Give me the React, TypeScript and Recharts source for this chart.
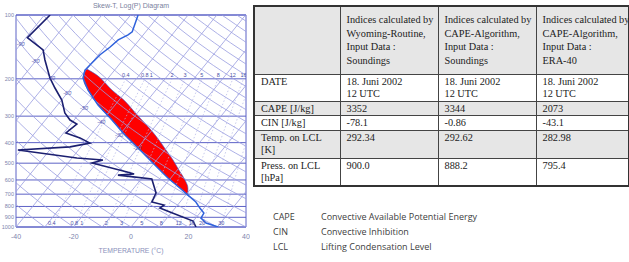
import {
  ComposedChart,
  Line,
  Area,
  Scatter,
  XAxis,
  YAxis,
  CartesianGrid,
  ReferenceArea,
} from "recharts";

// Sounding 18 June 2002, 12 UTC
const TEMP_P = [100, 120, 124, 131, 142, 154, 168, 182, 198, 226, 266, 313, 368, 433, 510, 587, 655, 707, 762, 814, 859, 907, 958, 1000];
const TEMP_T = [-57.4, -54.7, -55.3, -57.3, -58.1, -59.4, -59.9, -60.3, -58.8, -53.6, -45.9, -36.8, -28.1, -18.6, -9.2, -1.0, 6.0, 10.8, 15.5, 18.6, 21.4, 21.8, 25.0, 30.3];

const DEW_P = [100, 128, 146, 163, 198, 221, 252, 290, 313, 327, 360, 380, 402, 419, 433, 473, 483, 499, 550, 562, 569, 594, 691, 762, 788, 814, 850, 937, 1000];
const DEW_T = [-88.0, -89.5, -80.6, -77.1, -70.3, -65.7, -59.9, -55.2, -51.4, -47.9, -49.2, -42.9, -38.0, -43.8, -61.1, -38.3, -28.7, -31.6, -16.9, -13.9, -19.2, -6.3, -0.9, 0.2, 5.3, 4.7, 9.3, 19.9, 22.6];

// CAPE area: environment vs lifted parcel
const CAPE_P = [180, 192, 203, 226, 252, 281, 313, 349, 389, 433, 483, 539, 600, 655, 707];
const CAPE_ENV_T = [-60.3, -59.3, -57.9, -53.6, -48.5, -42.9, -36.8, -31.0, -24.9, -18.6, -12.3, -6.0, 0.4, 6.0, 10.8];
const CAPE_PARCEL_T = [-59.9, -54.8, -51.3, -45.3, -38.3, -32.3, -26.4, -20.4, -14.8, -9.6, -4.3, 0.6, 5.5, 8.8, 10.8];

// diagram background
const PRESSURE_TICKS = [100, 200, 300, 400, 500, 600, 700, 800, 900, 1000];
const TEMP_TICKS = [-40, -20, 0, 20, 40];
const ISOTHERMS = [-100, -90, -80, -70, -60, -50, -40, -30, -20, -10, 0, 10, 20, 30, 40];
const ISOTHERM_LABELS = [-90, -80, -70, -60, -50, -40, -30, -20];
const DRY_ADIABATS = [-40, -30, -20, -10, 0, 10, 20, 30, 40, 50, 60, 70, 80, 90, 100, 110, 120, 130, 140, 150, 160, 170, 180, 190, 200, 210];
const MIXING_RATIOS = [0.4, 0.8, 1, 2, 3, 5, 8, 12, 16, 20, 30];
const CURVE_LEVELS = [1000, 900, 800, 700, 600, 500, 400, 300, 250, 200, 150, 100];
const MIX_LEVELS = [1000, 800, 600, 400, 300, 200];

// table
const SOURCES = [
  ["Indices calculated by", "Wyoming-Routine,", "Input Data :", "Soundings"],
  ["Indices calculated by", "CAPE-Algorithm,", "Input Data :", "Soundings"],
  ["Indices calculated by", "CAPE-Algorithm,", "Input Data :", "ERA-40"],
];
const ROW_LABELS = [["DATE"], ["CAPE [J/kg]"], ["CIN [J/kg]"], ["Temp. on LCL", "[K]"], ["Press. on LCL", "[hPa]"]];
const DATE_LINES = ["18. Juni 2002", "12 UTC"];
const CAPE_VALUES = ["3352", "3344", "2073"];
const CIN_VALUES = ["-78.1", "-0.86", "-43.1"];
const LCL_TEMPS = ["292.34", "292.62", "282.98"];
const LCL_PRESS = ["900.0", "888.2", "795.4"];

const ABBREVIATIONS = ["CAPE", "CIN", "LCL"];
const DESCRIPTIONS = ["Convective Available Potential Energy", "Convective Inhibition", "Lifting Condensation Level"];

const SKEW = 26;
const skew = (t: number, p: number) => t + SKEW * Math.log(1000 / p);
const dewFromMix = (w: number, p: number) => {
  const l = Math.log((w * p) / (622 + w) / 6.112);
  return (243.5 * l) / (17.67 - l);
};

const isothermLines = ISOTHERMS.map((t) => [1000, 100].map((p) => ({ p, x: skew(t, p) })));
const dryLines = DRY_ADIABATS.map((th) =>
  CURVE_LEVELS.map((p) => ({ p, x: skew((th + 273.15) * Math.pow(p / 1000, 0.286) - 273.15, p) }))
);
const mixLines = MIXING_RATIOS.map((w) => MIX_LEVELS.map((p) => ({ p, x: skew(dewFromMix(w, p), p) })));
const mixLabels = MIXING_RATIOS.flatMap((w) =>
  [1000, 200].map((p) => ({ p, x: skew(dewFromMix(w, p), p), label: String(w) }))
).filter((d) => d.x > -38 && d.x < 40);
// isotherm labels sit where each isotherm meets the 50 °C dry adiabat
const isoLabels = ISOTHERM_LABELS.map((t) => {
  const p = 1000 * Math.pow((t + 273.15) / 323.15, 1 / 0.286);
  return { p, x: skew(t, p), label: String(t) };
});

const tempLine = TEMP_P.map((p, i) => ({ p, x: skew(TEMP_T[i], p) }));
const dewLine = DEW_P.map((p, i) => ({ p, x: skew(DEW_T[i], p) }));
const capeArea = CAPE_P.map((p, i) => ({ p, range: [skew(CAPE_ENV_T[i], p), skew(CAPE_PARCEL_T[i], p)] }));

const GRID = "#989ce0";
const ISOBAR = "#5d62c6";
const AXIS_TEXT = "#7e84ad";

const MixLabel = (props: any) => (
  <text x={props.cx} y={props.cy - 2} fontSize={5.5} fill="#4b52a8" textAnchor="middle" fontFamily="Liberation Sans, Arial">
    {props.payload.label}
  </text>
);
const IsoLabel = (props: any) => (
  <text x={props.cx} y={props.cy + 2} fontSize={5.5} fill="#5a60b4" textAnchor="middle" fontStyle="italic" fontFamily="Liberation Sans, Arial">
    {props.payload.label}
  </text>
);

function SkewT() {
  return (
    <div style={{ position: "absolute", left: 0, top: 0, width: 250, height: 262 }}>
      <div
        style={{
          position: "absolute", left: 16, width: 230, top: 2, textAlign: "center",
          fontFamily: "Liberation Sans, Arial", fontSize: 7, color: "#7a7f9e",
        }}
      >
        Skew-T, Log(P) Diagram
      </div>
      <ComposedChart layout="vertical" width={250} height={262} margin={{ top: 15, right: 4, bottom: 0, left: 0 }}>
        <XAxis
          type="number"
          dataKey="x"
          domain={[-40, 40]}
          ticks={TEMP_TICKS}
          allowDataOverflow
          height={35}
          axisLine={false}
          tickLine={false}
          tickSize={6}
          tickMargin={1}
          tick={{ fontSize: 7, fill: AXIS_TEXT, fontFamily: "Liberation Sans, Arial" }}
          label={{ value: "TEMPERATURE (°C)", position: "insideBottom", offset: 9, fontSize: 6.8, fill: "#8a90bb", fontFamily: "Liberation Sans, Arial" }}
        />
        <YAxis
          type="number"
          dataKey="p"
          scale="log"
          domain={[100, 1000]}
          ticks={PRESSURE_TICKS}
          allowDataOverflow
          width={16}
          axisLine={false}
          tickLine={false}
          tickSize={2}
          tickMargin={0}
          interval={0}
          tick={{ fontSize: 5.5, fill: AXIS_TEXT, fontFamily: "Liberation Sans, Arial" }}
        />
        <CartesianGrid vertical={false} stroke={ISOBAR} strokeWidth={1} />
        {isothermLines.map((d, i) => (
          <Line key={`it${i}`} data={d} dataKey="x" stroke={GRID} strokeWidth={0.8} dot={false} isAnimationActive={false} />
        ))}
        {dryLines.map((d, i) => (
          <Line key={`da${i}`} data={d} dataKey="x" type="monotone" stroke={GRID} strokeWidth={0.8} dot={false} isAnimationActive={false} />
        ))}
        {mixLines.map((d, i) => (
          <Line key={`mr${i}`} data={d} dataKey="x" type="monotone" stroke="#b2b5e6" strokeWidth={0.7} strokeDasharray="1.5 2" dot={false} isAnimationActive={false} />
        ))}
        <Scatter data={isoLabels} shape={IsoLabel} isAnimationActive={false} />
        <Area
          data={capeArea}
          dataKey="range"
          type="monotone"
          fill="#ff0000"
          fillOpacity={1}
          stroke="#3b5cd6"
          strokeWidth={0.6}
          isAnimationActive={false}
        />
        <Line data={tempLine} dataKey="x" stroke="#2f62dc" strokeWidth={1.5} dot={false} isAnimationActive={false} />
        <Line data={dewLine} dataKey="x" stroke="#1b1f70" strokeWidth={1.6} dot={false} isAnimationActive={false} />
        <Scatter data={mixLabels} shape={MixLabel} isAnimationActive={false} />
        <ReferenceArea x1={-40} x2={40} y1={100} y2={1000} fill="none" stroke={ISOBAR} strokeWidth={1} />
      </ComposedChart>
    </div>
  );
}

function IndicesTable() {
  const rows = [
    SOURCES.map(() => DATE_LINES),
    CAPE_VALUES.map((v) => [v]),
    CIN_VALUES.map((v) => [v]),
    LCL_TEMPS.map((v) => [v]),
    LCL_PRESS.map((v) => [v]),
  ];
  const rowHeights = [26, 14, 14, 28, 27];
  const cell = (shaded: boolean): React.CSSProperties => ({
    border: "1px solid #444",
    padding: "0px 2px 0px 6px",
    verticalAlign: "top",
    background: shaded ? "#e6e6e6" : "#fff",
  });
  return (
    <table
      style={{
        position: "absolute", left: 253, top: 5, width: 375, borderCollapse: "collapse", tableLayout: "fixed",
        fontFamily: "Liberation Serif, serif", fontSize: 10.3, lineHeight: "12.5px", color: "#1c1c1c",
        border: "2px solid #333",
      }}
    >
      <colgroup>
        <col style={{ width: 86 }} />
        <col style={{ width: 98 }} />
        <col style={{ width: 98 }} />
        <col style={{ width: 93 }} />
      </colgroup>
      <tbody>
        <tr style={{ height: 68 }}>
          <td style={{ ...cell(true), verticalAlign: "middle" }} />
          {SOURCES.map((lines, i) => (
            <td key={i} style={{ ...cell(true), verticalAlign: "middle", lineHeight: "13.4px", whiteSpace: "nowrap" }}>
              {lines.map((l, j) => (
                <div key={j}>{l}</div>
              ))}
            </td>
          ))}
        </tr>
        {rows.map((vals, r) => (
          <tr key={r} style={{ height: rowHeights[r] }}>
            <td style={{ ...cell(r % 2 === 1), paddingTop: 1 }}>
              {ROW_LABELS[r].map((l, j) => (
                <div key={j}>{l}</div>
              ))}
            </td>
            {vals.map((lines, c) => (
              <td key={c} style={{ ...cell(r % 2 === 1), paddingTop: 1 }}>
                {lines.map((l, j) => (
                  <div key={j}>{l}</div>
                ))}
              </td>
            ))}
          </tr>
        ))}
      </tbody>
    </table>
  );
}

function Abbreviations() {
  return (
    <div style={{ position: "absolute", left: 273, top: 211, fontFamily: "Open Sans, sans-serif", fontSize: 9, color: "#404040" }}>
      {ABBREVIATIONS.map((a, i) => (
        <div key={a} style={{ position: "relative", height: 15, lineHeight: "12px" }}>
          <span style={{ position: "absolute", left: 0 }}>{a}</span>
          <span style={{ position: "absolute", left: 48, whiteSpace: "nowrap" }}>{DESCRIPTIONS[i]}</span>
        </div>
      ))}
    </div>
  );
}

export default function App() {
  return (
    <div style={{ position: "absolute", left: 0, top: 0, width: 629, height: 262, background: "#fff", overflow: "hidden" }}>
      <SkewT />
      <IndicesTable />
      <Abbreviations />
    </div>
  );
}
